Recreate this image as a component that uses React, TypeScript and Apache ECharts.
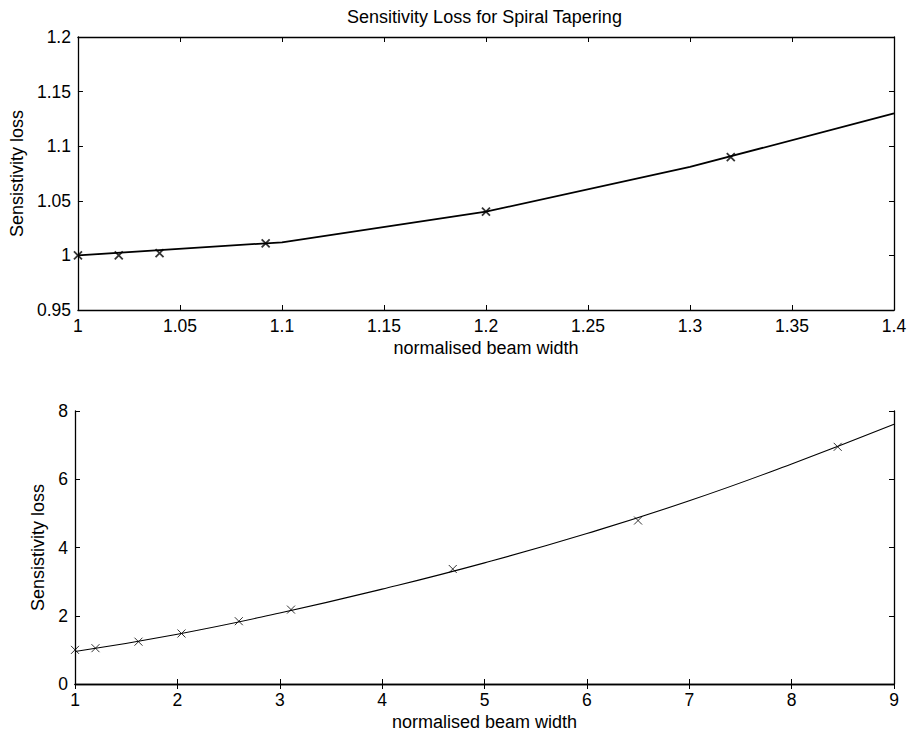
import React, { useEffect, useRef } from "react";
import * as echarts from "echarts";

const titleText = "Sensitivity Loss for Spiral Tapering";
const xName = "normalised beam width";
const yName = "Sensistivity loss";

const topLineX = [1, 1.1, 1.2, 1.3, 1.4];
const topLineY = [1.0, 1.012, 1.04, 1.081, 1.13];
const topMarkX = [1, 1.02, 1.04, 1.092, 1.2, 1.32];
const topMarkY = [1.0, 1.0, 1.002, 1.011, 1.04, 1.09];

const botLineX = [1, 2, 3, 4, 5, 6, 7, 8, 9];
const botLineY = [0.95, 1.46, 2.08, 2.78, 3.55, 4.41, 5.37, 6.45, 7.61];
const botMarkX = [1, 1.2, 1.62, 2.04, 2.6, 3.11, 4.69, 6.5, 8.45];
const botMarkY = [1.0, 1.05, 1.24, 1.48, 1.84, 2.18, 3.37, 4.79, 6.95];

const FONT = "'Liberation Sans', Arial, Helvetica, sans-serif";
const X_MARK = "path://M0,0L10,10M10,0L0,10";

const zip = (xs: number[], ys: number[]) => xs.map((x, i) => [x, ys[i]]);

export default function App() {
  const ref = useRef<HTMLDivElement>(null);
  useEffect(() => {
    if (!ref.current) return;
    const chart = echarts.init(ref.current, undefined, { renderer: "svg" });
    const axisLine = { show: true, lineStyle: { color: "#000", width: 1.3 } };
    const tick = { show: true, inside: true, length: 5, lineStyle: { color: "#000", width: 1 } };
    const label = { color: "#000", fontSize: 17.5, fontFamily: FONT, margin: 7 };
    const nameStyle = { color: "#000", fontSize: 18, fontFamily: FONT };
    const mkX = (gi: number, min: number, max: number, interval: number, pos: string, main: boolean) => ({
      type: "value",
      gridIndex: gi,
      position: pos,
      min,
      max,
      interval,
      axisLine,
      axisTick: tick,
      axisLabel: main ? label : { show: false },
      splitLine: { show: false },
      name: main ? xName : "",
      nameLocation: "middle",
      nameGap: 29,
      nameTextStyle: nameStyle,
    });
    const mkY = (gi: number, min: number, max: number, interval: number, pos: string, main: boolean, gap: number) => ({
      type: "value",
      gridIndex: gi,
      position: pos,
      min,
      max,
      interval,
      axisLine,
      axisTick: tick,
      axisLabel: main ? label : { show: false },
      splitLine: { show: false },
      name: main ? yName : "",
      nameLocation: "middle",
      nameGap: gap,
      nameTextStyle: nameStyle,
    });
    chart.setOption({
      animation: false,
      backgroundColor: "#fff",
      graphic: [
        {
          type: "text",
          x: 484.5,
          y: 17,
          style: {
            text: titleText,
            fill: "#000",
            font: `18px ${FONT}`,
            textAlign: "center",
            textVerticalAlign: "middle",
          },
        },
      ],
      grid: [
        { left: 75, top: 37, width: 819, height: 273 },
        { left: 75, top: 411, width: 819, height: 273 },
      ],
      xAxis: [
        mkX(0, 1, 1.4, 0.05, "bottom", true),
        mkX(0, 1, 1.4, 0.05, "top", false),
        mkX(1, 1, 9, 1, "bottom", true),
        mkX(1, 1, 9, 1, "top", false),
      ],
      yAxis: [
        mkY(0, 0.95, 1.2, 0.05, "left", true, 48),
        mkY(0, 0.95, 1.2, 0.05, "right", false, 0),
        mkY(1, 0, 8, 2, "left", true, 21),
        mkY(1, 0, 8, 2, "right", false, 0),
      ],
      series: [
        {
          type: "line",
          xAxisIndex: 0,
          yAxisIndex: 0,
          data: zip(topLineX, topLineY),
          showSymbol: false,
          lineStyle: { color: "#000", width: 1.8 },
        },
        {
          type: "scatter",
          xAxisIndex: 0,
          yAxisIndex: 0,
          data: zip(topMarkX, topMarkY),
          symbol: X_MARK,
          symbolSize: 8,
          itemStyle: { color: "rgba(0,0,0,0)", borderColor: "#000", borderWidth: 1.8 },
        },
        {
          type: "line",
          xAxisIndex: 2,
          yAxisIndex: 2,
          data: zip(botLineX, botLineY),
          showSymbol: false,
          smooth: true,
          lineStyle: { color: "#000", width: 1.1 },
        },
        {
          type: "scatter",
          xAxisIndex: 2,
          yAxisIndex: 2,
          data: zip(botMarkX, botMarkY),
          symbol: X_MARK,
          symbolSize: 8,
          itemStyle: { color: "rgba(0,0,0,0)", borderColor: "#000", borderWidth: 1 },
        },
      ],
    });
    return () => chart.dispose();
  }, []);
  return (
    <div
      ref={ref}
      style={{ position: "fixed", left: 0, top: 0, width: 912, height: 739, background: "#fff" }}
    />
  );
}
